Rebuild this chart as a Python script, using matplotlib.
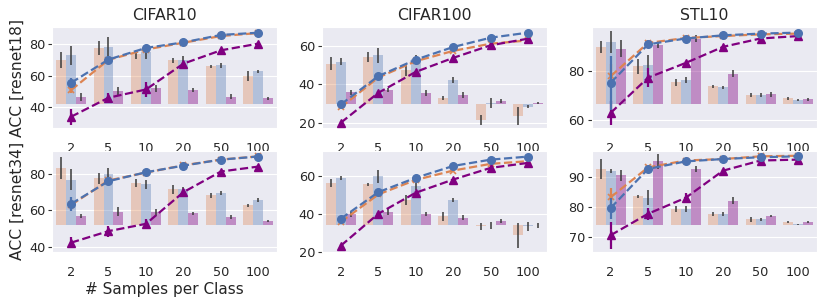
import numpy as np
import seaborn as sns
from matplotlib import pyplot as plt

sns.set_style("darkgrid")
plt.rcParams['font.family'] = ['DejaVu Sans']

samples = ["2", "5", "10", "20", "50", "100"]
datasets = ["CIFAR10", "CIFAR100", "STL10"]
models = ["resnet18", "resnet34"]

# line values: rows = blue, orange, purple
# bar values: rows = orange, blue, purple
c10_r18_lines = [[55.5, 70.2, 77.5, 81.0, 85.7, 87.1],
                 [50.9, 70.0, 76.5, 80.8, 85.0, 86.9],
                 [34.1, 46.1, 51.3, 67.6, 76.0, 80.2]]
c10_r18_lerr = [[3, 2, 1, 0.5, 0.5, 0.5], [2, 2, 1, 0.5, 0.5, 0.5], [5, 3, 5, 1, 1, 1]]
c10_r18_bars = [[69.7, 77.5, 73.5, 69.7, 66.0, 59.7],
                [72.9, 78.1, 74.8, 69.7, 66.6, 62.8],
                [46.7, 50.5, 52.0, 51.0, 46.7, 45.7]]
c10_r18_berr = [[5, 4.5, 3, 1.5, 1, 3], [6, 6, 4.5, 2.5, 1.5, 1], [2.5, 2.5, 2, 1, 1.5, 1]]

c100_r18_lines = [[29.7, 44.3, 52.8, 59.3, 64.1, 66.7],
                  [28.2, 43.6, 52.0, 57.3, 61.0, 62.7],
                  [20.3, 35.7, 46.5, 53.7, 60.2, 63.6]]
c100_r18_lerr = [[1, 1, 1, 0.5, 0.5, 0.5], [1, 1, 1, 0.5, 0.5, 0.5], [1, 1, 1, 0.5, 0.5, 0.5]]
c100_r18_bars = [[50.8, 54.0, 47.4, 33.2, 21.7, 23.8],
                 [51.8, 55.0, 53.2, 42.2, 30.5, 28.5],
                 [35.9, 37.1, 35.7, 34.5, 31.5, 30.3]]
c100_r18_berr = [[3.5, 2.5, 3, 1, 2.5, 4.5], [2, 4, 2, 1.5, 2.5, 0.8], [1.5, 1, 1.5, 1.5, 1, 0.6]]

stl_r18_lines = [[75.0, 90.7, 93.1, 94.4, 95.1, 95.5],
                 [77.7, 91.3, 93.3, 94.1, 94.8, 95.1],
                 [62.7, 77.1, 83.1, 89.7, 93.1, 94.1]]
stl_r18_lerr = [[11, 1, 0.5, 0.5, 0.5, 0.3], [5, 1, 0.5, 0.5, 0.5, 0.3], [5, 4, 1, 0.5, 0.5, 0.3]]
stl_r18_bars = [[89.7, 81.8, 75.2, 73.6, 70.2, 68.6],
                [91.7, 82.4, 76.0, 73.1, 70.2, 67.9],
                [89.0, 90.6, 93.1, 78.8, 70.3, 68.3]]
stl_r18_berr = [[2.5, 3, 1.5, 0.6, 0.8, 0.8], [4.5, 4, 1.2, 0.7, 0.8, 0.4], [3.5, 1.5, 1.3, 1.5, 1, 0.6]]

c10_r34_lines = [[63.6, 76.0, 80.9, 84.5, 87.8, 89.5],
                 [63.0, 76.4, 80.7, 84.7, 87.8, 89.6],
                 [42.4, 48.7, 52.7, 70.0, 81.3, 84.0]]
c10_r34_lerr = [[4, 1, 0.5, 0.5, 0.5, 0.5], [3, 1, 0.5, 0.5, 0.5, 0.5], [3, 3, 2.5, 1, 1, 1]]
c10_r34_bars = [[83.1, 77.6, 75.1, 71.5, 68.2, 62.8],
                [76.9, 80.0, 74.4, 71.8, 69.5, 65.8],
                [57.1, 59.3, 58.9, 58.4, 56.4, 54.2]]
c10_r34_berr = [[6, 3, 2, 2.5, 1.3, 1], [5.5, 3, 2.5, 1.3, 1.3, 1.2], [1, 2.5, 2, 0.8, 1, 0.6]]

c100_r34_lines = [[37.4, 51.3, 58.8, 65.0, 68.3, 69.9],
                  [35.7, 50.1, 57.7, 62.6, 66.1, 67.5],
                  [23.3, 40.0, 51.0, 57.9, 64.0, 66.6]]
c100_r34_lerr = [[1, 1, 1, 0.5, 0.5, 0.5], [1, 1, 1, 0.5, 0.5, 0.5], [1, 1, 1, 0.5, 0.5, 0.5]]
c100_r34_bars = [[56.0, 55.3, 47.3, 38.6, 33.4, 28.7],
                 [58.8, 59.5, 54.3, 47.0, 33.9, 33.4],
                 [40.0, 40.9, 40.0, 37.9, 36.0, 33.9]]
c100_r34_berr = [[2, 1, 2.5, 2.5, 2, 6.5], [1, 3.5, 2, 1, 2, 2.5], [1.5, 1.5, 1, 1.2, 1, 1.5]]

stl_r34_lines = [[79.7, 92.8, 95.3, 96.1, 96.7, 97.0],
                 [83.3, 93.3, 95.6, 96.1, 97.0, 97.2],
                 [70.6, 77.8, 83.1, 92.2, 95.6, 95.9]]
stl_r34_lerr = [[3.5, 0.5, 0.5, 0.3, 0.3, 0.3], [3, 0.5, 0.5, 0.3, 0.3, 0.3], [4.5, 2, 1.5, 0.5, 0.5, 0.3]]
stl_r34_bars = [[92.8, 83.6, 79.4, 77.8, 75.9, 75.1],
                [92.0, 83.1, 79.4, 77.6, 75.9, 74.3],
                [90.6, 95.3, 92.7, 82.2, 77.1, 75.1]]
stl_r34_berr = [[3.3, 0.6, 1, 0.7, 0.8, 0.3], [0.7, 2.5, 1, 0.7, 0.6, 0.2], [1.7, 2.5, 1, 1.1, 0.3, 0.4]]

bar_base = [[42.1, 29.9, 66.3], [52.0, 34.1, 74.0]]
y_limits = [[(26.8, 90.7), (17.4, 69.6), (56.4, 97.8)],
            [(37.3, 92.7), (20.0, 73.0), (65.0, 98.9)]]
y_ticks = [[[40, 60, 80], [20, 40, 60], [60, 80]],
           [[40, 60, 80], [20, 40, 60], [70, 80, 90]]]

panels = [[(c10_r18_lines, c10_r18_lerr, c10_r18_bars, c10_r18_berr),
           (c100_r18_lines, c100_r18_lerr, c100_r18_bars, c100_r18_berr),
           (stl_r18_lines, stl_r18_lerr, stl_r18_bars, stl_r18_berr)],
          [(c10_r34_lines, c10_r34_lerr, c10_r34_bars, c10_r34_berr),
           (c100_r34_lines, c100_r34_lerr, c100_r34_bars, c100_r34_berr),
           (stl_r34_lines, stl_r34_lerr, stl_r34_bars, stl_r34_berr)]]

line_colors = ["#4C72B0", "#DD8452", "purple"]
bar_colors = ["#DD8452", "#4C72B0", "purple"]
markers = ["o", "x", "^"]
bar_alpha = [0.35, 0.35, 0.4]

fig, axes = plt.subplots(2, 3, figsize=(8.3, 3.0), dpi=100)
plt.subplots_adjust(left=0.063, right=0.984, top=0.91, bottom=0.16, wspace=0.2, hspace=0.22)

x = np.arange(len(samples))
w = 0.8 / 3
for r in range(2):
    for c in range(3):
        ax = axes[r][c]
        lines, lerr, bars, berr = panels[r][c]
        base = bar_base[r][c]
        for k in range(3):
            xs = x + (k - 1) * w
            tops = np.array(bars[k])
            ax.bar(xs, tops - base, bottom=base, width=w, color=bar_colors[k],
                   alpha=bar_alpha[k], linewidth=0, zorder=2)
            ax.vlines(xs, tops - np.array(berr[k]), tops + np.array(berr[k]),
                      color="#3a3a3a", lw=1.1, zorder=3)
        for k in [1, 0, 2]:
            ax.errorbar(x, lines[k], yerr=lerr[k], color=line_colors[k], ls="--",
                        marker=markers[k], ms=5.5 if k != 1 else 4,
                        mew=1.2 if k == 1 else 1, lw=1.6,
                        elinewidth=1.6, zorder=4 + (k == 0))
        ax.set_xlim(-0.5, 5.5)
        ax.set_ylim(*y_limits[r][c])
        ax.set_yticks(y_ticks[r][c])
        ax.set_xticks(x)
        ax.set_xticklabels(samples)
        ax.grid(axis="x", visible=False)
        ax.tick_params(axis="y", left=True, length=3, width=0.8, color="#333333",
                       labelsize=9.3, pad=2)
        ax.tick_params(axis="x", labelsize=9.3, pad=6.5)
        if r == 0:
            ax.set_title(datasets[c], fontsize=11.3, pad=5)
        if c == 0:
            ax.set_ylabel("ACC [" + models[r] + "]", fontsize=11.2, labelpad=3)
axes[1][0].set_xlabel("# Samples per Class", fontsize=11, labelpad=2)

plt.savefig("out.png", dpi=100)
